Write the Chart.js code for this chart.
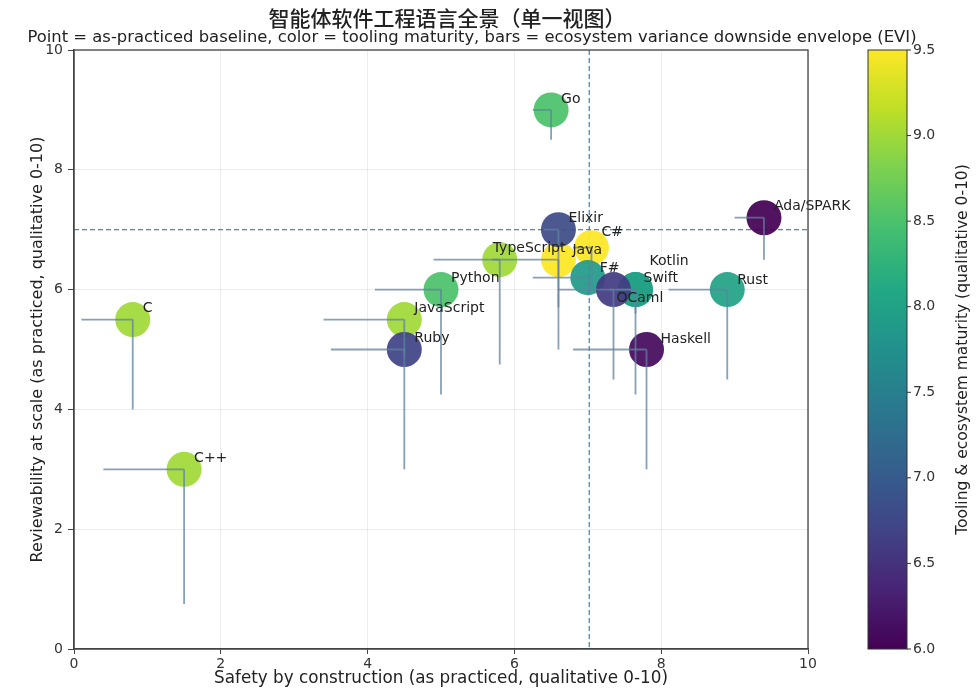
<!DOCTYPE html>
<html><head><meta charset="utf-8">
<script src="https://cdn.jsdelivr.net/npm/chart.js@4/dist/chart.umd.min.js"></script>
<style>html,body{margin:0;padding:0;background:#fff}</style>
</head><body>
<canvas id="c" width="977" height="693"></canvas>
<script>
// ---------- data ----------
const LANGS       = ["C","C++","JavaScript","Ruby","Python","TypeScript","Go","Java","C#","Elixir","Rust","Kotlin","Swift","F#","OCaml","Haskell","Ada/SPARK"];
const SAFETY      = [0.8, 1.5, 4.5, 4.5, 5.0, 5.8, 6.5, 6.6, 7.05, 6.6, 8.9, 7.65, 7.65, 7.0, 7.35, 7.8, 9.4];
const REVIEW      = [5.5, 3.0, 5.5, 5.0, 6.0, 6.5, 9.0, 6.5, 6.7, 7.0, 6.0, 6.0, 6.0, 6.2, 6.0, 5.0, 7.2];
const SAFETY_LOW  = [0.1, 0.4, 3.4, 3.5, 4.1, 4.9, 6.25, 5.7, 6.8, 6.4, 8.1, 7.3, 7.4, 6.25, 6.6, 6.8, 9.0];
const REVIEW_LOW  = [4.0, 0.75, 4.9, 3.0, 4.25, 4.75, 8.5, 5.7, 6.0, 5.0, 4.5, 4.25, 5.6, 5.9, 4.5, 3.0, 6.5];
const MATURITY    = [9.0, 9.0, 9.0, 6.7, 8.5, 9.0, 8.5, 9.5, 9.5, 6.8, 8.0, 8.0, 8.0, 7.9, 6.6, 6.1, 6.0];
const X_REF = 7.02;
const Y_REF = 7.0;
const AXIS_TICKS = [0, 2, 4, 6, 8, 10];
const CB_MIN = 6.0, CB_MAX = 9.5, CB_STEP = 0.5;

const TITLE = "智能体软件工程语言全景（单一视图）";
const SUBTITLE = "Point = as-practiced baseline, color = tooling maturity, bars = ecosystem variance downside envelope (EVI)";
const X_TITLE = "Safety by construction (as practiced, qualitative 0-10)";
const Y_TITLE = "Reviewability at scale (as practiced, qualitative 0-10)";
const CB_TITLE = "Tooling & ecosystem maturity (qualitative 0-10)";

// ---------- colormap ----------
const VIRIDIS = ["#440154","#482475","#414487","#355f8d","#2a788e","#21918c","#22a884","#44bf70","#7ad151","#bddf26","#fde725"];
function hex2rgb(h){return [parseInt(h.slice(1,3),16),parseInt(h.slice(3,5),16),parseInt(h.slice(5,7),16)];}
function viridis(t, a){
  t = Math.max(0, Math.min(1, t));
  const p = t * (VIRIDIS.length - 1), i = Math.min(Math.floor(p), VIRIDIS.length - 2), f = p - i;
  const c0 = hex2rgb(VIRIDIS[i]), c1 = hex2rgb(VIRIDIS[i+1]);
  const c = c0.map((v, k) => Math.round(v + (c1[k] - v) * f));
  return `rgba(${c[0]},${c[1]},${c[2]},${a})`;
}
const FONT = "'DejaVu Sans', sans-serif";

// label nudges (pixels, relative to point centre)
const DEFAULT_NUDGE = [10, -11];
const NUDGE = {"TypeScript":[-7,-11], "Java":[14,-9], "C#":[10,-15], "F#":[12,-9], "Kotlin":[14,-28], "Swift":[8,-11], "OCaml":[3,9], "Haskell":[14,-10], "Rust":[10,-9]};

const points = SAFETY.map((x, i) => ({x, y: REVIEW[i]}));

const decor = {
  id: 'decor',
  beforeDraw(chart){
    const ctx = chart.ctx;
    ctx.save(); ctx.fillStyle = '#fff'; ctx.fillRect(0, 0, chart.width, chart.height); ctx.restore();
  },
  beforeDatasetsDraw(chart){
    const {ctx, chartArea: a, scales: {x, y}} = chart;
    ctx.save();
    ctx.strokeStyle = 'rgba(50,110,180,0.85)';
    ctx.lineWidth = 1.3;
    ctx.setLineDash([5, 3]);
    const px = x.getPixelForValue(X_REF), py = y.getPixelForValue(Y_REF);
    ctx.beginPath(); ctx.moveTo(px, a.top); ctx.lineTo(px, a.bottom); ctx.stroke();
    ctx.beginPath(); ctx.moveTo(a.left, py); ctx.lineTo(a.right, py); ctx.stroke();
    ctx.restore();
  },
  afterDatasetsDraw(chart){
    const {ctx, chartArea: a, scales: {x, y, cb}} = chart;
    ctx.save();
    // error bars (downside envelope)
    ctx.strokeStyle = 'rgba(95,130,160,0.75)';
    ctx.lineWidth = 1.8;
    for (let i = 0; i < LANGS.length; i++){
      const px = x.getPixelForValue(SAFETY[i]), py = y.getPixelForValue(REVIEW[i]);
      ctx.beginPath();
      ctx.moveTo(x.getPixelForValue(SAFETY_LOW[i]), py); ctx.lineTo(px, py);
      ctx.moveTo(px, y.getPixelForValue(REVIEW_LOW[i])); ctx.lineTo(px, py);
      ctx.stroke();
    }
    // labels
    ctx.fillStyle = '#222';
    ctx.font = "14px " + FONT;
    ctx.textAlign = 'left'; ctx.textBaseline = 'middle';
    for (let i = 0; i < LANGS.length; i++){
      const n = NUDGE[LANGS[i]] || DEFAULT_NUDGE;
      ctx.fillText(LANGS[i], x.getPixelForValue(SAFETY[i]) + n[0], y.getPixelForValue(REVIEW[i]) + n[1]);
    }
    // frame
    ctx.strokeStyle = '#444'; ctx.lineWidth = 1.3;
    ctx.strokeRect(a.left, a.top, a.right - a.left, a.bottom - a.top);
    // colorbar
    const cx0 = 868, cw = 39;
    const top = cb.getPixelForValue(CB_MAX), bot = cb.getPixelForValue(CB_MIN);
    const g = ctx.createLinearGradient(0, bot, 0, top);
    for (let k = 0; k < VIRIDIS.length; k++) g.addColorStop(k / (VIRIDIS.length - 1), VIRIDIS[k]);
    ctx.fillStyle = g; ctx.fillRect(cx0, top, cw, bot - top);
    ctx.strokeStyle = '#333'; ctx.lineWidth = 1;
    ctx.strokeRect(cx0, top, cw, bot - top);
    ctx.beginPath();
    cb.ticks.forEach(t => { const ty = cb.getPixelForValue(t.value); ctx.moveTo(cx0 + cw, ty); ctx.lineTo(cx0 + cw + 4, ty); });
    ctx.stroke();
    // titles
    ctx.fillStyle = '#222'; ctx.textAlign = 'center'; ctx.textBaseline = 'middle';
    ctx.font = "500 21px 'Noto Sans CJK SC', sans-serif";
    ctx.fillText(TITLE, 447, 18);
    ctx.font = "16.4px " + FONT;
    ctx.fillText(SUBTITLE, 472, 38);
    ctx.save();
    ctx.translate(963, (top + bot) / 2); ctx.rotate(-Math.PI / 2);
    ctx.font = "15.5px " + FONT;
    ctx.fillText(CB_TITLE, 0, 0);
    ctx.restore();
    ctx.restore();
  }
};

const noPad = s => { s.paddingTop = 0; s.paddingBottom = 0; };

new Chart(document.getElementById('c'), {
  type: 'scatter',
  data: { datasets: [{
    data: points,
    backgroundColor: MATURITY.map(m => viridis((m - CB_MIN) / (CB_MAX - CB_MIN), 0.93)),
    borderWidth: 0,
    pointRadius: 17.5,
    pointHoverRadius: 17.5
  }]},
  options: {
    responsive: false, animation: false,
    layout: { padding: { top: 50, right: 0, bottom: 0, left: 0 } },
    plugins: { legend: { display: false }, tooltip: { enabled: false } },
    scales: {
      x: {
        type: 'linear', min: 0, max: 10,
        afterBuildTicks: s => { s.ticks = AXIS_TICKS.map(v => ({value: v})); },
        afterFit: s => { s.height = 44; s.paddingLeft = 0; s.paddingRight = 0; },
        grid: { color: 'rgba(0,0,0,0.07)', tickColor: '#444', tickLength: 5 },
        border: { color: '#444', width: 1.3 },
        ticks: { color: '#333', font: { family: FONT, size: 14 }, padding: 2 },
        title: { display: true, text: X_TITLE, color: '#222', font: { family: FONT, size: 16.8 }, padding: { top: 0, bottom: 4 } }
      },
      y: {
        type: 'linear', min: 0, max: 10,
        afterBuildTicks: s => { s.ticks = AXIS_TICKS.map(v => ({value: v})); },
        afterFit: s => { s.width = 74; noPad(s); },
        grid: { color: 'rgba(0,0,0,0.07)', tickColor: '#444', tickLength: 6 },
        border: { color: '#444', width: 1.3 },
        ticks: { color: '#333', font: { family: FONT, size: 14 }, padding: 5 },
        title: { display: true, text: Y_TITLE, color: '#222', font: { family: FONT, size: 16 }, padding: { top: 28, bottom: 0 } }
      },
      cb: {
        type: 'linear', position: 'right', axis: 'y', min: CB_MIN, max: CB_MAX,
        afterBuildTicks: s => { const t = []; for (let v = CB_MIN; v <= CB_MAX + 1e-9; v += CB_STEP) t.push({value: +v.toFixed(2)}); s.ticks = t; },
        afterFit: s => { s.width = 169; noPad(s); },
        grid: { display: false, drawTicks: false },
        border: { display: false },
        ticks: { color: '#333', font: { family: FONT, size: 14 }, padding: 105, callback: v => Number(v).toFixed(1) }
      }
    }
  },
  plugins: [decor]
});
</script>
</body></html>
